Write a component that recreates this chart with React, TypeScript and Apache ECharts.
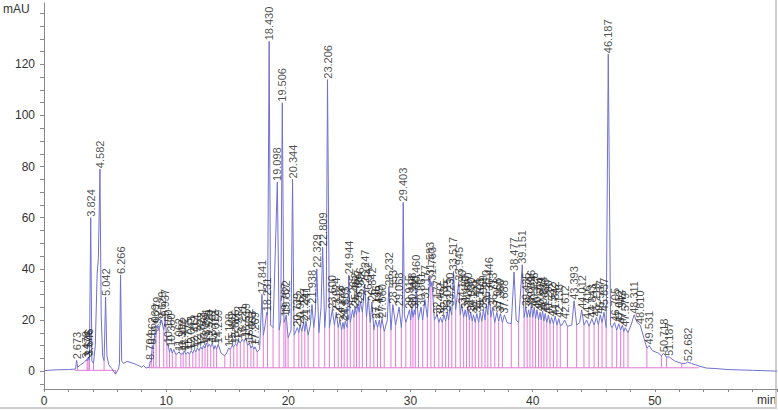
import React, { useEffect, useRef } from 'react';
import * as echarts from 'echarts';

// Peak apexes: [retention time (min), height (mAU)]
const peaks: [number, number][] = [
  [2.673, 4.2], [3.478, 4.5], [3.576, 5.0], [3.646, 5.5], [3.824, 60], [4.582, 79], [5.042, 29], [6.266, 37.6],
  [8.704, 4], [8.862, 10], [9.069, 15], [9.279, 18], [9.629, 20], [9.937, 21], [10.150, 10.5], [10.380, 9],
  [11.062, 7.5], [11.312, 7], [11.472, 8], [11.775, 7.5], [12.043, 8], [12.312, 8.5], [12.551, 9], [12.822, 9.5],
  [13.061, 10], [13.291, 11], [13.520, 10.5], [13.781, 11], [14.012, 10], [14.259, 10.5],
  [15.108, 9], [15.402, 10], [15.666, 10.5], [15.912, 12], [16.221, 12.5], [16.519, 13], [16.812, 11], [17.063, 10], [17.269, 9.5],
  [17.841, 30], [18.231, 23], [18.430, 129], [19.098, 74], [19.506, 105], [19.767, 21], [19.822, 22], [20.344, 75],
  [20.739, 17], [20.962, 18], [21.247, 19], [21.441, 19.5], [21.938, 26], [22.329, 40], [22.809, 48.5], [23.206, 114],
  [23.600, 24], [23.924, 23], [24.218, 20], [24.474, 19], [24.653, 19.5], [24.944, 37.5], [25.265, 24], [25.462, 25],
  [25.687, 26], [25.896, 27], [26.247, 34], [26.542, 29], [26.842, 27], [27.146, 20], [27.449, 20], [27.660, 20.5],
  [28.232, 33], [28.553, 26], [29.068, 25], [29.403, 66], [29.915, 24], [30.108, 25], [30.309, 24], [30.460, 32],
  [30.861, 25], [31.177, 28], [31.583, 37], [31.763, 35], [32.177, 22], [32.452, 21], [32.735, 22], [33.015, 23],
  [33.230, 25], [33.517, 39], [33.945, 35], [34.190, 26], [34.480, 24], [34.690, 25], [34.930, 23], [35.155, 22],
  [35.424, 22.5], [35.703, 23], [35.969, 24], [36.210, 26], [36.446, 31], [36.713, 25], [37.068, 23], [37.360, 22.5],
  [37.688, 22], [38.477, 38.8], [39.151, 41.6], [39.435, 25], [39.671, 24], [39.896, 26], [40.126, 25], [40.357, 24],
  [40.604, 23], [40.814, 23.5], [41.026, 22.5], [41.290, 22], [41.542, 21], [41.842, 21.5], [42.138, 20.5], [42.612, 20],
  [43.393, 27.5], [44.012, 24], [44.416, 20], [44.843, 20.5], [45.219, 21], [45.537, 22], [45.837, 23], [46.187, 124],
  [46.705, 19], [47.052, 18.5], [47.343, 18], [47.579, 17], [48.311, 22], [48.810, 18], [49.531, 10], [50.718, 7],
  [51.187, 5.5], [52.682, 3.5],
];

// Signal between peaks (valleys, shoulders, flanks): [time, mAU]
const valleys: [number, number][] = [
  [0, 0.2], [1.0, 0.5], [2.0, 0.6], [2.58, 0.8], [2.75, 1.5], [3.0, 2.5], [3.3, 3.5], [3.53, 4.0], [3.61, 4.5],
  [3.72, 4.3], [3.92, 4], [4.05, 3], [4.2, 10], [4.35, 38], [4.45, 44], [4.68, 22], [4.8, 6], [4.92, 4], [5.15, 6],
  [5.3, 2.5], [5.55, 1], [5.85, -1.2], [6.1, 0.8], [6.18, 3], [6.36, 4], [6.5, 3], [6.8, 3.8], [7.2, 3.2], [7.6, 2.5],
  [8.0, 1.5], [8.15, 2.2], [8.35, 1.2], [8.6, 1.5],
  [8.78, 3.5], [8.96, 9], [9.17, 14], [9.45, 17], [9.8, 16], [10.06, 10], [10.27, 7.5], [10.5, 7], [10.62, 8.5], [10.8, 6.5],
  [11.2, 6.5], [11.39, 6.5], [11.62, 6.5], [11.9, 6.5], [12.18, 7], [12.43, 7.5], [12.7, 8], [12.95, 8.5], [13.18, 9],
  [13.4, 9.5], [13.65, 9.5], [13.9, 8.5], [14.13, 8.5], [14.5, 7], [14.8, 6], [15.0, 7.5], [15.25, 8.5], [15.53, 9.5],
  [15.8, 10], [16.07, 11], [16.37, 11.5], [16.67, 10], [16.94, 9], [17.17, 8.5], [17.45, 7.5], [17.65, 8.5], [17.95, 14],
  [18.1, 18], [18.3, 22], [18.55, 18], [18.75, 17], [19.25, 16], [19.38, 20], [19.64, 19], [19.79, 20.5], [19.98, 13],
  [20.22, 16], [20.47, 14], [20.86, 15], [21.1, 15.5], [21.35, 15.5], [21.62, 14], [21.8, 18], [22.08, 17], [22.2, 22],
  [22.5, 15], [22.68, 25], [22.98, 17], [23.1, 25], [23.36, 17], [23.77, 18], [24.08, 17], [24.36, 16], [24.57, 16.5],
  [24.82, 17], [25.07, 19], [25.37, 21], [25.58, 22], [25.8, 23], [26.06, 23], [26.4, 21], [26.7, 19], [27.0, 16],
  [27.3, 17], [27.55, 16.5], [27.85, 15.5], [28.1, 20], [28.4, 16], [28.78, 18], [29.25, 17], [29.33, 22], [29.5, 22],
  [29.62, 19], [30.02, 20], [30.2, 21], [30.39, 22], [30.65, 20], [31.0, 20], [31.38, 21], [31.67, 33], [31.95, 20],
  [32.32, 19], [32.6, 19], [32.88, 19.5], [33.12, 20], [33.38, 22], [33.7, 24], [34.07, 22], [34.35, 21], [34.58, 21],
  [34.82, 20], [35.05, 19.5], [35.3, 19], [35.58, 19], [35.84, 19.5], [36.1, 20], [36.33, 22], [36.58, 21], [36.9, 19],
  [37.22, 19.5], [37.52, 19], [37.9, 19], [38.25, 18.5], [38.65, 20], [38.85, 19], [39.3, 21], [39.55, 21], [39.78, 21],
  [40.01, 21], [40.24, 20.5], [40.48, 20], [40.7, 20], [40.92, 19.5], [41.16, 19], [41.42, 18.5], [41.7, 18.5], [41.99, 18],
  [42.26, 18], [42.4, 18], [42.85, 17.5], [43.2, 18], [43.6, 18], [43.85, 19], [44.2, 18], [44.62, 17.5], [45.03, 18],
  [45.38, 18], [45.68, 19], [46.02, 17], [46.38, 18], [46.5, 17], [46.88, 16], [47.2, 16], [47.46, 15.5], [47.8, 15],
  [48.05, 18], [48.55, 19], [49.1, 13], [49.35, 9], [49.8, 8], [50.3, 7], [50.55, 6], [50.95, 5.5], [51.6, 4], [52.2, 3],
  [52.5, 3], [53.0, 3], [53.6, 2], [54.2, 1.2], [55, 1], [56, 0.6], [58, 0.3], [60, 0],
];

// Integration baselines: [start, end, level]
const baselines: [number, number, number][] = [
  [2.55, 5.88, 0.3],
  [8.6, 53.6, 1.3],
];

const xLabelValues = [0, 10, 20, 30, 40, 50];
const yLabelValues = [0, 20, 40, 60, 80, 100, 120];
const yTickValues = [-5, 0, 5, 10, 15, 20, 25, 30, 35, 40, 45, 50, 55, 60, 65, 70, 75, 80, 85, 90, 95, 100, 105, 110, 115, 120, 125, 130, 135, 140];

const TRACE = '#7070d2';
const PINK = '#e37ad9';
const AXIS = '#8a8a8a';

export default function App() {
  const ref = useRef<HTMLDivElement>(null);
  useEffect(() => {
    document.body.style.margin = '0';
    document.body.style.overflow = 'hidden';
    if (!ref.current) return;
    const chart = echarts.init(ref.current, undefined, { renderer: 'svg' });

    const trace = [...peaks, ...valleys].sort((a, b) => a[0] - b[0]);
    const drops: [number, number, number][] = [];
    for (let i = 1; i < trace.length - 1; i++) {
      const [t, v] = trace[i];
      if (v < trace[i - 1][1] && v <= trace[i + 1][1]) {
        const seg = baselines.find((s) => t >= s[0] && t <= s[1]);
        if (seg) drops.push([t, seg[2], v]);
      }
    }

    const font = 'Liberation Sans, Arial, sans-serif';

    chart.setOption({
      animation: false,
      grid: { left: 44, right: 1, top: 3, bottom: 21, containLabel: false },
      xAxis: {
        type: 'value',
        min: 0,
        max: 60,
        interval: 2,
        axisLine: { show: true, onZero: false, lineStyle: { color: AXIS, width: 1 } },
        axisTick: { show: true, length: 3, lineStyle: { color: AXIS } },
        axisLabel: {
          customValues: xLabelValues,
          color: '#333',
          fontSize: 12,
          fontFamily: font,
          margin: 6,
        },
        splitLine: { show: false },
      },
      yAxis: {
        type: 'value',
        min: -7,
        max: 144,
        axisLine: { show: true, onZero: false, lineStyle: { color: AXIS, width: 1 } },
        axisTick: { show: true, length: 4, customValues: yTickValues, lineStyle: { color: AXIS } },
        axisLabel: {
          customValues: yLabelValues,
          color: '#333',
          fontSize: 12,
          fontFamily: font,
          margin: 9,
        },
        splitLine: { show: false },
      },
      series: [
        {
          type: 'custom',
          name: 'baseline',
          data: baselines,
          encode: { x: [0, 1], y: 2 },
          silent: true,
          z: 1,
          renderItem: (_p: any, api: any) => {
            const a = api.coord([api.value(0), api.value(2)]);
            const b = api.coord([api.value(1), api.value(2)]);
            return {
              type: 'line',
              shape: { x1: a[0], y1: a[1], x2: b[0], y2: b[1] },
              style: { stroke: PINK, lineWidth: 1 },
            };
          },
        },
        {
          type: 'custom',
          name: 'drops',
          data: drops,
          encode: { x: 0, y: [1, 2] },
          silent: true,
          z: 1,
          renderItem: (_p: any, api: any) => {
            const a = api.coord([api.value(0), api.value(1)]);
            const b = api.coord([api.value(0), api.value(2)]);
            return {
              type: 'line',
              shape: { x1: a[0], y1: a[1], x2: b[0], y2: b[1] },
              style: { stroke: PINK, lineWidth: 1 },
            };
          },
        },
        {
          type: 'line',
          name: 'signal',
          data: trace,
          showSymbol: false,
          symbol: 'none',
          lineStyle: { color: TRACE, width: 1 },
          z: 2,
          silent: true,
        },
        {
          type: 'scatter',
          name: 'labels',
          data: peaks,
          symbolSize: 0,
          z: 3,
          silent: true,
          label: {
            show: true,
            position: 'top',
            distance: 1,
            rotate: 90,
            align: 'left',
            verticalAlign: 'middle',
            formatter: (p: any) => Number(p.value[0]).toFixed(3),
            fontSize: 11,
            color: '#1e1e1e',
            fontFamily: font,
          },
        },
      ],
      graphic: [
        { type: 'text', left: 3, top: 3, style: { text: 'mAU', fontSize: 12, fill: '#333', fontFamily: font } },
        { type: 'text', left: 757, top: 394, style: { text: 'min', fontSize: 12, fill: '#333', fontFamily: font } },
        { type: 'line', shape: { x1: 776, y1: 0, x2: 776, y2: 408 }, style: { stroke: '#cfcfcf', lineWidth: 2 } },
        { type: 'line', shape: { x1: 0, y1: 408, x2: 777, y2: 408 }, style: { stroke: '#cfcfcf', lineWidth: 2 } },
      ],
    });
    return () => chart.dispose();
  }, []);
  return <div ref={ref} style={{ width: 778, height: 410 }} />;
}
